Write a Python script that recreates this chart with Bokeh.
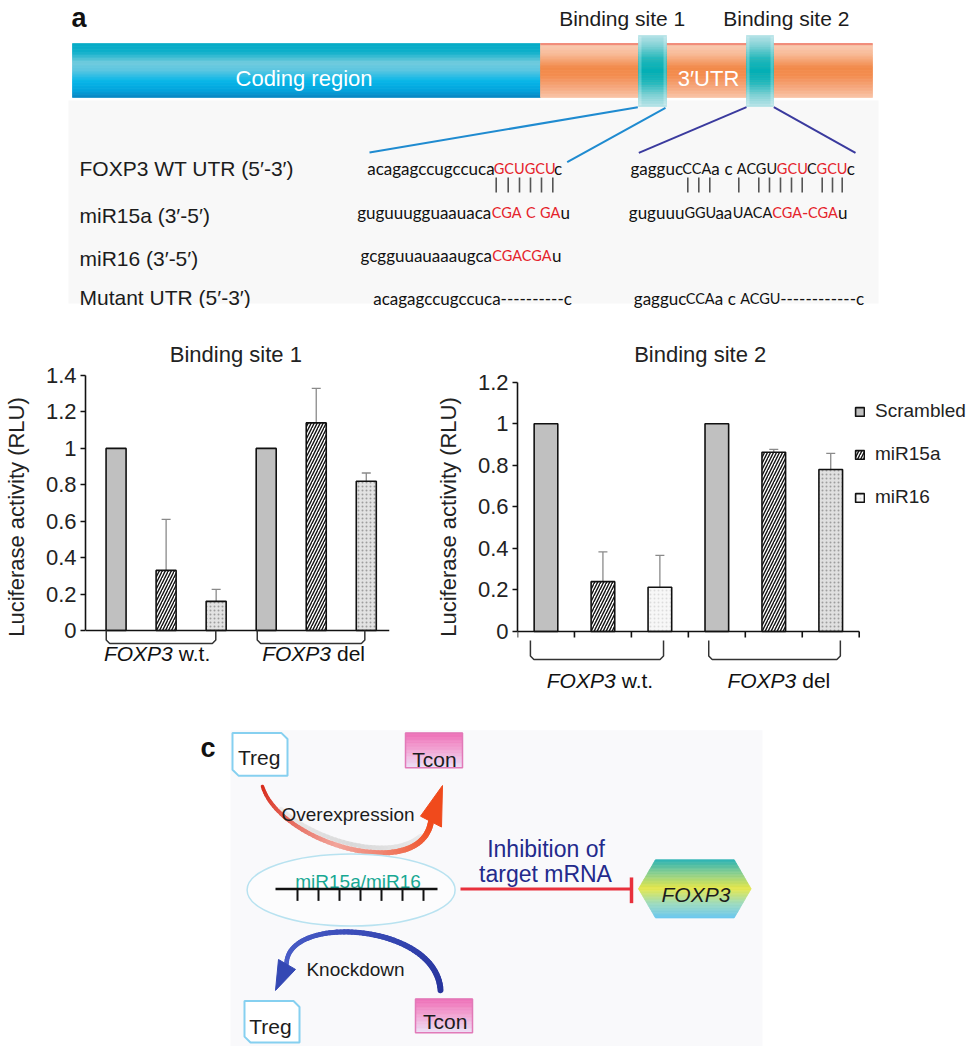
import numpy as np
from bokeh.plotting import figure
from bokeh.models import (Range1d, FixedTicker, PrintfTickFormatter, Legend, LegendItem,
                          Whisker, TeeHead, ColumnDataSource, Label)
from bokeh.layouts import column, row
from bokeh.embed import file_html
from bokeh.resources import INLINE
from bokeh.core.properties import value

SANS = "Liberation Sans"
SEQF = "Lato"
RED = "#e5232b"
INK = "#1c1c1c"

# ---------------- panel b data ----------------
groups = ["FOXP3 w.t.", "FOXP3 del"]
group_gene = ["FOXP3", "FOXP3"]
group_suffix = ["w.t.", "del"]
series_names = ["Scrambled", "miR15a", "miR16"]

site1_scrambled = [1.0, 1.0]
site1_mir15a = [0.33, 1.14]
site1_mir15a_err = [0.28, 0.19]
site1_mir16 = [0.16, 0.82]
site1_mir16_err = [0.066, 0.045]

site2_scrambled = [1.0, 1.0]
site2_mir15a = [0.24, 0.863]
site2_mir15a_err = [0.143, 0.014]
site2_mir16 = [0.213, 0.78]
site2_mir16_err = [0.153, 0.077]

site1_ticks = [0, 0.2, 0.4, 0.6, 0.8, 1.0, 1.2, 1.4]
site2_ticks = [0, 0.2, 0.4, 0.6, 0.8, 1.0, 1.2]

# ---------------- panel a texts ----------------
seq_labels = ["FOXP3 WT UTR (5′-3′)", "miR15a (3′-5′)", "miR16 (3′-5′)", "Mutant UTR (5′-3′)"]
site1_seqs = [
    [("acagagccugccuca", "k"), ("GCUGCU", "r"), ("c", "k")],
    [("guguuugguaauaca", "k"), ("CGA C GA", "r"), ("u", "k")],
    [("gcgguuauaaaugca", "k"), ("CGACGA", "r"), ("u", "k")],
    [("acagagccugccuca----------c", "k")],
]
site2_seqs = [
    [("gaggucCCAa c ACGU", "k"), ("GCU", "r"), ("C", "k"), ("GCU", "r"), ("c", "k")],
    [("guguuuGGUaaUACA", "k"), ("CGA-CGA", "r"), ("u", "k")],
    None,
    [("gaggucCCAa c ACGU------------c", "k")],
]

# layout positions (screen pixels) for the schematic text
site1_x0 = [366.7, 356.7, 360, 372.7]
site2_x0 = [630, 628.3, None, 633.3]
seq_base = [168.3, 211.7, 255, 298.3]
lab_base = [168.3, 215, 258.3, 296.7]
pair1_x = [495.7, 507.7, 519, 530, 541, 552.3]
pair2_x = [687.3, 698.3, 709.3, 738.3, 758.3, 769, 780, 791, 801.7, 821.7, 832, 841.7]

# approximate advance widths of Lato (per 1000 em) used to chain coloured runs
LATO_W = {"a": 510, "b": 565, "c": 460, "d": 565, "e": 530, "g": 505, "u": 565, "-": 350,
          "A": 680, "C": 660, "G": 720, "U": 700}
LOW_SIZE, UP_SIZE, SPACE_ADV = 17, 14.5, 4.5


# ---------------- helpers ----------------
def hex_to_rgb(h):
    return [int(h[i:i + 2], 16) for i in (1, 3, 5)]


def mix(stops, t):
    t = min(max(t, 0.0), 1.0)
    for i in range(len(stops) - 1):
        p0, c0 = stops[i]
        p1, c1 = stops[i + 1]
        if t <= p1 or i == len(stops) - 2:
            f = 0.0 if p1 == p0 else min(max((t - p0) / (p1 - p0), 0.0), 1.0)
            a, b = hex_to_rgb(c0), hex_to_rgb(c1)
            return "#%02x%02x%02x" % tuple(int(round(a[j] + (b[j] - a[j]) * f)) for j in range(3))


def vgrad(p, x0, x1, y0, y1, stops, n=36):
    ys = np.linspace(y0, y1, n + 1)
    cols = [mix(stops, (i + 0.5) / n) for i in range(n)]
    p.quad(left=[x0] * n, right=[x1] * n, top=[float(v) for v in ys[:-1]],
           bottom=[float(v) for v in ys[1:]], fill_color=cols, line_color=cols, line_width=0.7)


def hex_grad(p, xl, xtl, xtr, xr, yt, yb, stops, n=40):
    ym = (yt + yb) / 2

    def ext(y):
        f = (y - yt) / (ym - yt) if y <= ym else (yb - y) / (yb - ym)
        return xtl + (xl - xtl) * f, xtr + (xr - xtr) * f

    ys = np.linspace(yt, yb, n + 1)
    xs_l, ys_l, cols = [], [], []
    for i in range(n):
        a, b = float(ys[i]), float(ys[i + 1])
        la, ra = ext(a)
        lb, rb = ext(b)
        xs_l.append([la, ra, rb, lb])
        ys_l.append([a, a, b, b])
        cols.append(mix(stops, (i + 0.5) / n))
    p.patches(xs_l, ys_l, fill_color=cols, line_color=cols, line_width=0.7)


def bezier_pts(P0, C0, C1, P1, n=60):
    t = np.linspace(0, 1, n)[:, None]
    P0, C0, C1, P1 = map(np.array, (P0, C0, C1, P1))
    return (1 - t) ** 3 * P0 + 3 * (1 - t) ** 2 * t * C0 + 3 * (1 - t) * t ** 2 * C1 + t ** 3 * P1


def grad_curve(p, pts, stops, w0, w1, alpha=1.0):
    n = len(pts) - 1
    xs = [[float(pts[i, 0]), float(pts[i + 1, 0])] for i in range(n)]
    ys = [[float(pts[i, 1]), float(pts[i + 1, 1])] for i in range(n)]
    cols = [mix(stops, (i + 0.5) / n) for i in range(n)]
    lws = [w0 + (w1 - w0) * (i + 0.5) / n for i in range(n)]
    p.multi_line(xs, ys, line_color=cols, line_width=lws, line_cap="round", line_alpha=alpha)


def canvas(width, height, x0, x1, y0, y1):
    p = figure(width=width, height=height, x_range=Range1d(x0, x1), y_range=Range1d(y1, y0),
               output_backend="svg", toolbar_location=None, x_axis_location=None,
               y_axis_location=None, min_border=0, outline_line_color=None)
    p.grid.grid_line_color = None
    return p


def txt(p, x, y, s, size, color=INK, align="left", font=SANS, style="normal", baseline="alphabetic"):
    p.text(x=[x], y=[y], text=[s], text_font=value(font), text_font_size=size,
           text_color=color, text_align=align, text_baseline=baseline, text_font_style=style)


def seq_row(p, x, y, segs):
    for s, c in segs:
        col = RED if c == "r" else "#111111"
        i = 0
        while i < len(s):
            ch = s[i]
            if ch == " ":
                x += SPACE_ADV
                i += 1
                continue
            up = ch.isupper()
            j = i
            while j < len(s) and s[j] != " " and s[j].isupper() == up:
                j += 1
            run = s[i:j]
            size = UP_SIZE if up else LOW_SIZE
            txt(p, x, y, run, "%spx" % size, color=col, font=SEQF)
            x += sum(LATO_W.get(k, 690 if up else 520) for k in run) * size / 1000.0
            i = j


# ================= panel a =================
W = 968
pa = canvas(W, 308, 0, W, 0, 308)
pa.quad(left=[68], right=[878], top=[100], bottom=[303], fill_color="#f8f8f8", line_color=None)

vgrad(pa, 72, 540, 43, 97, [(0, "#05acc6"), (0.17, "#10b0ca"), (0.36, "#70cbdd"), (0.5, "#5cc6e0"),
                             (0.7, "#08b6e8"), (0.88, "#04a4dc"), (1, "#0a86c2")])
vgrad(pa, 540, 872, 43, 97, [(0, "#f3a888"), (0.06, "#f9c8ae"), (0.2, "#f8bb98"), (0.45, "#f28a4a"),
                              (0.6, "#f38d50"), (0.85, "#f6ac84"), (1, "#f9c3a6")])
pa.segment(x0=[540], y0=[43.5], x1=[872], y1=[43.5], line_color="#ef7f72", line_width=1.5)

cap_stops = [(0, "#b6e3e7"), (0.14, "#86d3d7"), (0.33, "#22b8bc"), (0.5, "#02afb5"),
             (0.67, "#22b8bc"), (0.86, "#86d3d7"), (1, "#b6e3e7")]
for cx0, cx1 in [(638, 666), (746, 773)]:
    vgrad(pa, cx0, cx1, 35, 106, cap_stops, n=30)
    pa.quad(left=[cx0, cx1 - 3], right=[cx0 + 3, cx1], top=[36, 36], bottom=[105, 105],
            fill_color="white", fill_alpha=0.25, line_color=None)

txt(pa, 303.5, 78, "Coding region", "22px", color="white", align="center")
txt(pa, 708, 78, "3′UTR", "22px", color="white", align="center")

pa.segment(x0=[637.3, 665], y0=[106.7, 107.3], x1=[369, 566.7], y1=[152, 161.7],
           line_color="#1f8bd0", line_width=2)
pa.segment(x0=[746, 773.3], y0=[106.7, 106.7], x1=[638.3, 855], y1=[152.3, 152.3],
           line_color="#3a3a9e", line_width=2)

txt(pa, 71, 17, "a", "27px", color="#111", style="bold")
txt(pa, 621.7, 17.5, "Binding site 1", "21px", align="center")
txt(pa, 785.8, 17.5, "Binding site 2", "21px", align="center")

for lab, yb in zip(seq_labels, lab_base):
    txt(pa, 79, yb, lab, "21px")

for seqs, xs in [(site1_seqs, site1_x0), (site2_seqs, site2_x0)]:
    for r, (segs, x0) in enumerate(zip(seqs, xs)):
        if segs is None:
            continue
        seq_row(pa, x0, seq_base[r], segs)

allpx = pair1_x + pair2_x
pa.segment(x0=allpx, y0=[177] * len(allpx), x1=allpx, y1=[192] * len(allpx),
           line_color="#555555", line_width=1.6)

# ================= panel b =================
FIG_TOP, ROW_H, FRAME_TOP, FRAME_BOT = 308, 392, 335, 698


def bar_chart(fig_l, fig_w, frame_l, frame_r, x_start, x_end, zero_sy, ppu, ticks,
              scr, m15, m15e, m16, m16e, m16_fill, m16_ha, bw, title, title_cx,
              brackets, bracket_top, bracket_bot, label_cx, label_base, with_xticks):
    y_top = (zero_sy - FRAME_TOP) / ppu
    y_bot = -(FRAME_BOT - zero_sy) / ppu
    p = figure(width=fig_w, height=ROW_H, x_range=Range1d(x_start, x_end),
               y_range=Range1d(y_bot, y_top), output_backend="svg", toolbar_location=None,
               x_axis_location=None, outline_line_color=None,
               min_border_left=frame_l - fig_l, min_border_right=fig_l + fig_w - frame_r,
               min_border_top=FRAME_TOP - FIG_TOP, min_border_bottom=FIG_TOP + ROW_H - FRAME_BOT)
    p.grid.grid_line_color = None

    def sx(v):
        return x_start + (v - frame_l) / (frame_r - frame_l) * (x_end - x_start)

    def sy(v):
        return (zero_sy - v) / ppu

    n = len(scr)
    xs0 = [3 * g + 0.5 for g in range(n)]
    xs1 = [3 * g + 1.5 for g in range(n)]
    xs2 = [3 * g + 2.5 for g in range(n)]
    r1 = p.vbar(x=xs0, top=scr, width=bw, fill_color="#c0c0c0", line_color="#111", line_width=1.6)
    r2 = p.vbar(x=xs1, top=m15, width=bw, fill_color="white", hatch_pattern="/",
                hatch_color="#111", hatch_weight=1.4, hatch_scale=6, line_color="#111", line_width=1.6)
    s16 = ColumnDataSource(dict(x=xs2, top=m16, fill=m16_fill, ha=m16_ha))
    r3 = p.vbar(x="x", top="top", width=bw, source=s16, fill_color="fill", hatch_pattern=".",
                hatch_color="#8c8c8c", hatch_alpha="ha", hatch_scale=4, hatch_weight=1,
                line_color="#111", line_width=1.6)

    wsrc = ColumnDataSource(dict(x=xs1 + xs2, lo=list(m15) + list(m16),
                                 hi=[a + b for a, b in zip(m15, m15e)] + [a + b for a, b in zip(m16, m16e)]))
    p.add_layout(Whisker(source=wsrc, base="x", lower="lo", upper="hi", dimension="height",
                         line_color="#8a8a8a", line_width=1.3, lower_head=None,
                         upper_head=TeeHead(size=9, line_color="#8a8a8a", line_width=1.3)))

    # x baseline (+ tick marks for the second chart)
    if with_xticks:
        bx0, bx1 = 0, 3 * n
        tk = list(range(0, 3 * n + 1))
        p.segment(x0=tk, y0=[0] * len(tk), x1=tk, y1=[sy(zero_sy + 6)] * len(tk),
                  line_color="#111", line_width=1.6)
    else:
        bx0, bx1 = x_start, x_end
    p.segment(x0=[bx0], y0=[0], x1=[bx1], y1=[0], line_color="#111", line_width=1.6)

    # y axis
    ax = p.yaxis[0]
    ax.bounds = (0, ticks[-1])
    ax.ticker = FixedTicker(ticks=ticks)
    ax.formatter = PrintfTickFormatter(format="%g")
    ax.minor_tick_line_color = None
    ax.major_tick_in = 0
    ax.major_tick_out = 5
    ax.axis_line_width = 1.6
    ax.axis_line_color = "#111"
    ax.major_tick_line_color = "#111"
    ax.major_tick_line_width = 1.6
    ax.major_label_text_font = SANS
    ax.major_label_text_font_size = "22px"
    ax.major_label_text_color = "#222"
    ax.major_label_standoff = 4
    ax.axis_label = "Luciferase activity (RLU)"
    ax.axis_label_text_font = SANS
    ax.axis_label_text_font_size = "22px"
    ax.axis_label_text_font_style = "normal"
    ax.axis_label_text_color = "#222"
    ax.axis_label_standoff = 14

    # title
    p.text(x=[sx(title_cx)], y=[sy(366.7)], text=[title], text_font=value(SANS),
           text_font_size="22px", text_color="#222", text_align="center")

    # brackets
    bxs, bys = [], []
    c = 3.5
    for a, b in brackets:
        bxs.append([sx(a), sx(a), sx(a + c), sx(b - c), sx(b), sx(b)])
        bys.append([sy(bracket_top), sy(bracket_bot - c), sy(bracket_bot), sy(bracket_bot),
                    sy(bracket_bot - c), sy(bracket_top)])
    p.multi_line(bxs, bys, line_color="#333", line_width=1.5)

    # group labels: italic gene + plain suffix
    for g in range(n):
        d = 15.2 if group_suffix[g] == "w.t." else 17.5
        p.text(x=[sx(label_cx[g])], y=[sy(label_base)], text=[group_gene[g]], text_font=value(SANS),
               text_font_size="21px", text_font_style="italic", text_color="#111",
               text_align="right", x_offset=d)
        p.text(x=[sx(label_cx[g])], y=[sy(label_base)], text=[group_suffix[g]], text_font=value(SANS),
               text_font_size="21px", text_color="#111", text_align="left", x_offset=d + 6)
    return p, (r1, r2, r3), sx, sy


pb1, _, sx1, sy1 = bar_chart(0, 432, 81, 389, -0.111, 5.964, 630, 182.1, site1_ticks,
                             site1_scrambled, site1_mir15a, site1_mir15a_err, site1_mir16, site1_mir16_err,
                             ["#e2e2e2", "#e2e2e2"], [0.8, 0.8], 0.40, "Binding site 1", 233.3,
                             [(102, 213), (255, 364)], 630, 643, [154, 312], 664, False)
pb1.add_layout(Label(x=sx1(0.5), y=sy1(360), text="b", text_font=SANS, text_font_size="27px",
                     text_font_style="bold", text_color="#111"))

pb2, rends, sx2, sy2 = bar_chart(432, W - 432, 514, W, 0, (W - 514) / 57.33, 631, 207.75, site2_ticks,
                                 site2_scrambled, site2_mir15a, site2_mir15a_err, site2_mir16, site2_mir16_err,
                                 ["#f7f7f7", "#e0e0e0"], [0.25, 0.8], 0.415, "Binding site 2", 697.9,
                                 [(527, 661), (706.5, 839)], 640, 659, [597.5, 777], 691.7, True)
legend = Legend(items=[LegendItem(label=nm, renderers=[r]) for nm, r in zip(series_names, rends)],
                location=(337, 190), glyph_width=11, glyph_height=11, label_text_font=SANS,
                label_text_font_size="19px", label_text_color="#222", label_standoff=10, spacing=21,
                padding=0, margin=0, background_fill_alpha=0, border_line_alpha=0)
pb2.add_layout(legend)

# ================= panel c =================
pc = canvas(W, 346, 0, W, 700, 1050)
pc.quad(left=[230], right=[762], top=[730], bottom=[1050], fill_color="#f9f9fb", line_color=None)

# overexpression arrow (shadow + gradient curve + head)
ov = bezier_pts((262, 787), (280, 845), (420, 885), (430.5, 822.5))
sh = ov.copy()
sh[:, 1] -= 5
grad_curve(pc, sh[10:-8], [(0, "#e8e8e8"), (0.5, "#d6d6d6"), (1, "#e8e8e8")], 4, 5, alpha=0.7)
grad_curve(pc, ov, [(0, "#d82a1a"), (0.45, "#f2a49a"), (0.62, "#f08a78"), (1, "#f04a1c")], 3.5, 6)
pc.patch([442, 420, 441], [786, 817, 828], fill_color="#f04a1c", line_color="#f04a1c")

# knockdown arrow
kd = bezier_pts((440, 993), (436, 925), (285, 915), (286, 967.5))
grad_curve(pc, kd, [(0, "#26339c"), (0.5, "#3a4cb8"), (1, "#4a5ec8")], 6, 4.5)
pc.patch([275, 278, 295], [993.3, 962, 972], fill_color="#3448b4", line_color="#3448b4")


# boxes
def treg_box(x0, x1, y0, y1, c=6):
    pc.patch([x0, x1 - c, x1, x1, x0 + c, x0], [y0, y0, y0 + c, y1, y1, y1 - c],
             fill_color="white", line_color="#86d0f0", line_width=2)


def tcon_box(x0, x1, y0, y1):
    vgrad(pc, x0, x1, y0, y1, [(0, "#ee6cb6"), (0.5, "#f2a6d4"), (1, "#ece0f6")], n=24)
    pc.quad(left=[x0], right=[x1], top=[y0], bottom=[y1], fill_color=None,
            line_color="#e27ab8", line_width=1.5)


treg_box(232, 287, 733, 776)
tcon_box(405, 462, 733, 768)
treg_box(244, 299, 1004, 1046)
tcon_box(415, 472, 1002, 1036)

txt(pc, 258.7, 757.3, "Treg", "21px", align="center")
txt(pc, 434, 759.3, "Tcon", "21px", align="center")
txt(pc, 270, 1030, "Treg", "21px", align="center")
txt(pc, 444.7, 1025, "Tcon", "21px", align="center")
txt(pc, 347.5, 815, "Overexpression", "19px", align="center")
txt(pc, 355, 971.7, "Knockdown", "19px", align="center")

# miRNA ellipse and comb
pc.ellipse(x=[350.6], y=[891.7], width=[208], height=[73], fill_color="white", fill_alpha=0.5,
           line_color="#b8e2f0", line_width=1.5)
txt(pc, 357.6, 882.7, "miR15a/miR16", "19px", color="#17a893", align="center")
pc.segment(x0=[275], y0=[890.7], x1=[437], y1=[890.7], line_color="#111", line_width=2.5)
teeth = [297, 318, 339, 360, 381, 402, 423]
pc.segment(x0=teeth, y0=[890.7] * 7, x1=teeth, y1=[902.7] * 7, line_color="#111", line_width=2)

# inhibition
pc.segment(x0=[460], y0=[890.7], x1=[631], y1=[890.7], line_color="#e8303c", line_width=3)
pc.segment(x0=[631], y0=[879], x1=[631], y1=[905], line_color="#e8303c", line_width=3.5)
txt(pc, 545.5, 850, "Inhibition of", "23px", color="#232a8c", align="center")
txt(pc, 545, 875, "target mRNA", "23px", color="#232a8c", align="center")

# FOXP3 hexagon
hex_grad(pc, 638, 655, 733.7, 750.6, 861, 920,
         [(0, "#2bb3b6"), (0.25, "#8ccf8c"), (0.5, "#e6e84a"), (0.75, "#a0dcbc"), (1, "#6cc8ee")])
txt(pc, 695.4, 896, "FOXP3", "21px", align="center", style="italic")
txt(pc, 200, 748.3, "c", "27px", color="#111", style="bold")

layout = column(pa, row(pb1, pb2), pc)
open("out.html", "w").write(file_html(layout, INLINE))
